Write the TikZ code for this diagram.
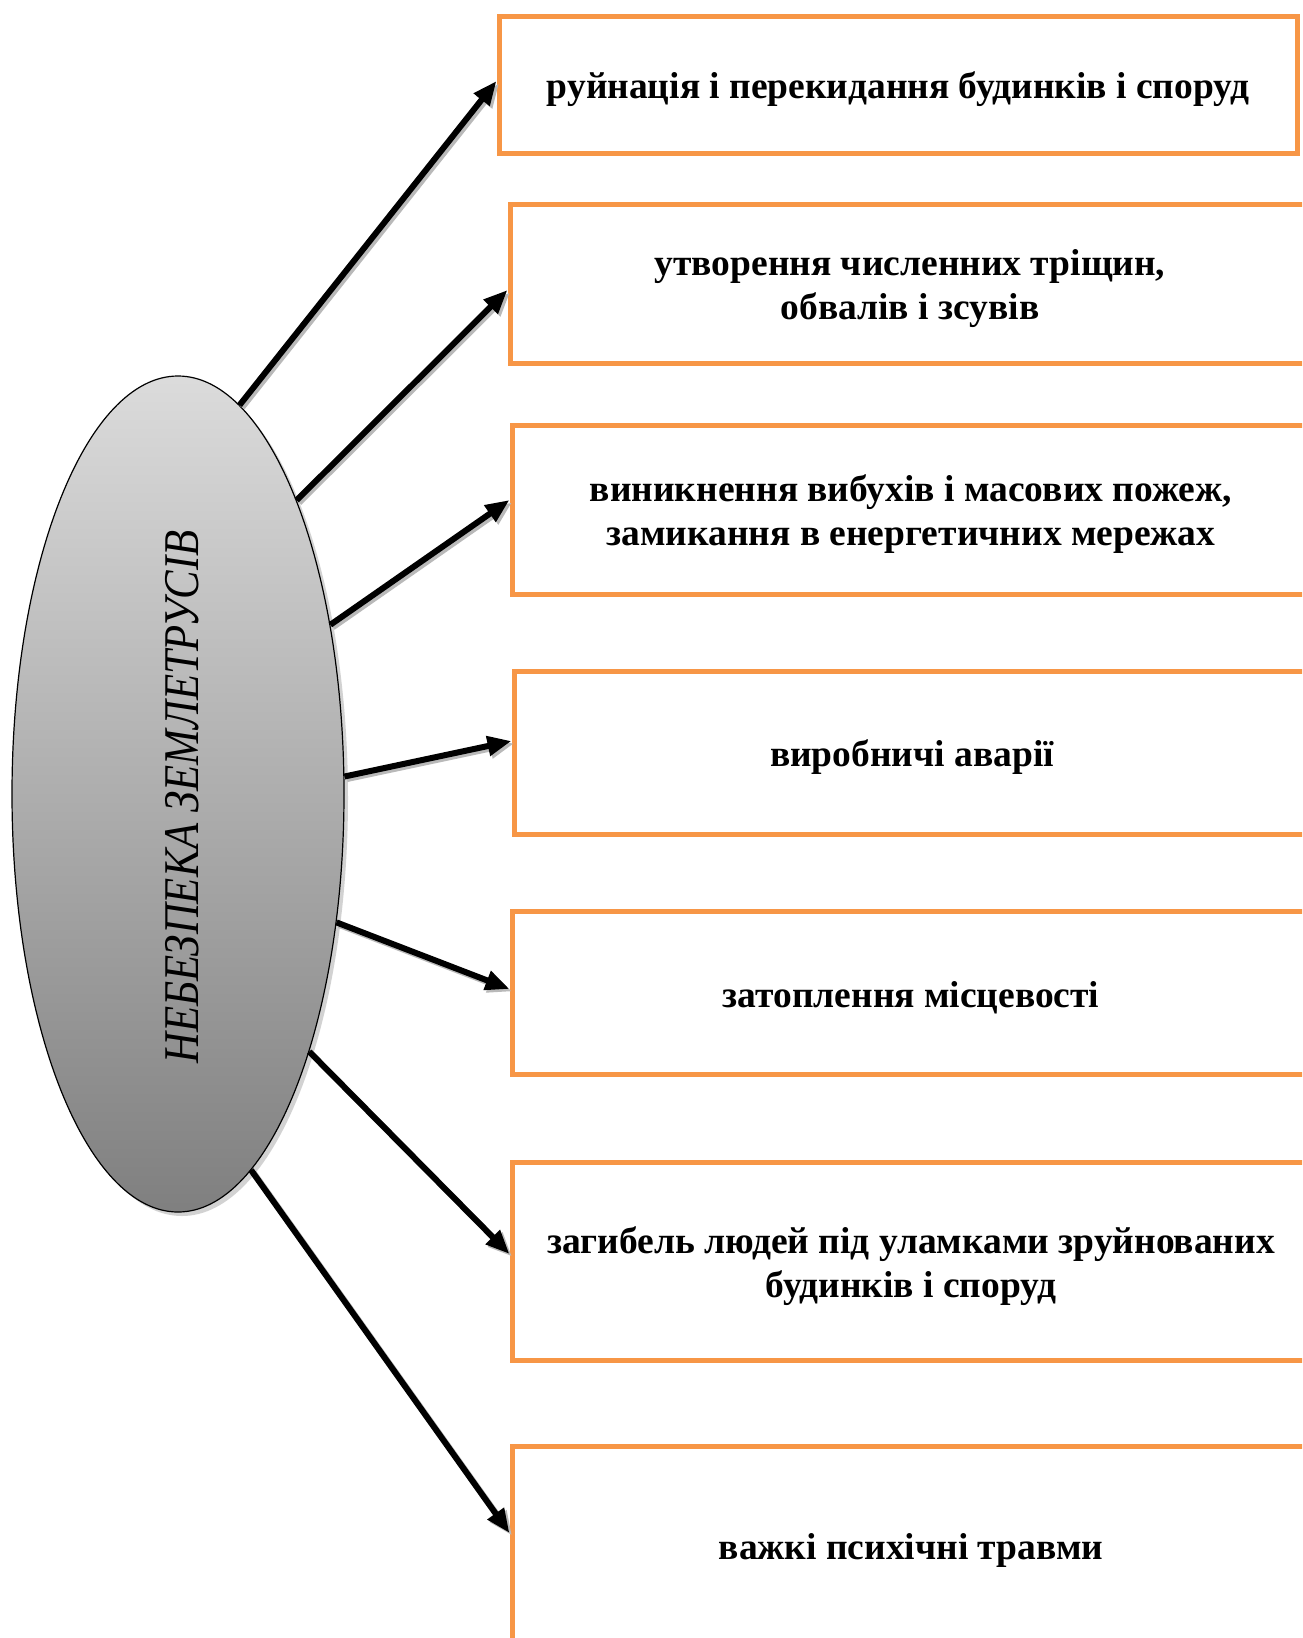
\documentclass[tikz,border=0pt]{standalone}
\usepackage{fontspec}
\usepackage{graphicx}
\setmainfont{Liberation Serif}
\usetikzlibrary{shapes.geometric,arrows.meta,shadows}
\definecolor{boxorange}{HTML}{F79646}
\begin{document}
\begin{tikzpicture}[x=1pt,y=-1pt,
  hazard/.style={draw=boxorange,line width=5pt,fill=white,inner sep=0pt},
  hazardtext/.style={font=\fontsize{37.5}{44}\selectfont\bfseries,align=center,inner sep=0pt},
  link/.style={line width=6pt,-{Triangle[length=24pt,width=19pt]},
    preaction={draw=gray!55,line width=6pt,transform canvas={shift={(2.5pt,-2.5pt)}}}},
]
\useasboundingbox (0,0) rectangle (1302,1638);
\fill[white] (0,0) rectangle (1302,1638);
\clip (0,0) rectangle (1302,1638);

% boxes
\node[hazard,minimum width=798pt,minimum height=137pt] (b1) at (898,84.5) {};
\node[hazard,minimum width=800pt,minimum height=159pt] (b2) at (910,283.5) {};
\node[hazard,minimum width=798pt,minimum height=169pt] (b3) at (911,509.5) {};
\node[hazard,minimum width=796pt,minimum height=163pt] (b4) at (912,752.5) {};
\node[hazard,minimum width=798pt,minimum height=163pt] (b5) at (911,992.5) {};
\node[hazard,minimum width=798pt,minimum height=198pt] (b6) at (911,1261) {};
\node[hazard,minimum width=798pt,minimum height=204pt] (b7) at (911,1548) {};

% box texts
\node[hazardtext] (t1) at ([yshift=-5pt]b1.center) {руйнація і перекидання будинків і споруд};
\node[hazardtext] (t2) at ([yshift=-5pt]b2.center) {утворення численних тріщин,\\обвалів і зсувів};
\node[hazardtext] (t3) at ([yshift=-5pt]b3.center) {виникнення вибухів і масових пожеж,\\замикання в енергетичних мережах};
\node[hazardtext] (t4) at ([yshift=-5pt]b4.center) {виробничі аварії};
\node[hazardtext] (t5) at ([yshift=-5pt]b5.center) {затоплення місцевості};
\node[hazardtext] (t6) at ([yshift=-5pt]b6.center) {загибель людей під уламками зруйнованих\\будинків і споруд};
\node[hazardtext] (t7) at ([yshift=-2pt]b7.center) {важкі психічні травми};

% central ellipse
\node[ellipse,draw=black,line width=1.2pt,minimum width=332pt,minimum height=836pt,
  inner sep=0pt,top color=black!14,bottom color=black!50,
  drop shadow={shadow xshift=4pt,shadow yshift=-4pt,fill=gray!70}] (hz) at (178,794) {};
\node[rotate=90,font=\fontsize{50}{60}\selectfont\itshape] (title) at (182,797)
  {\scalebox{0.855}[1]{НЕБЕЗПЕКА ЗЕМЛЕТРУСІВ}};

% connectors
\draw[link] (hz.81.4) -- ([yshift=3.5pt]b1.west);
\draw[link] (hz.68) -- ([yshift=-6.5pt]b2.west);
\draw[link] (hz.48.7) -- ([yshift=9.5pt]b3.west);
\draw[link] (hz.6.8) -- ([yshift=11.5pt]b4.west);
\draw[link] (hz.-39.8) -- ([yshift=3.5pt]b5.west);
\draw[link] (hz.-63.2) -- ([yshift=7pt]b6.west);
\draw[link] (hz.-79.2) -- ([yshift=15pt]b7.west);
\end{tikzpicture}
\end{document}
